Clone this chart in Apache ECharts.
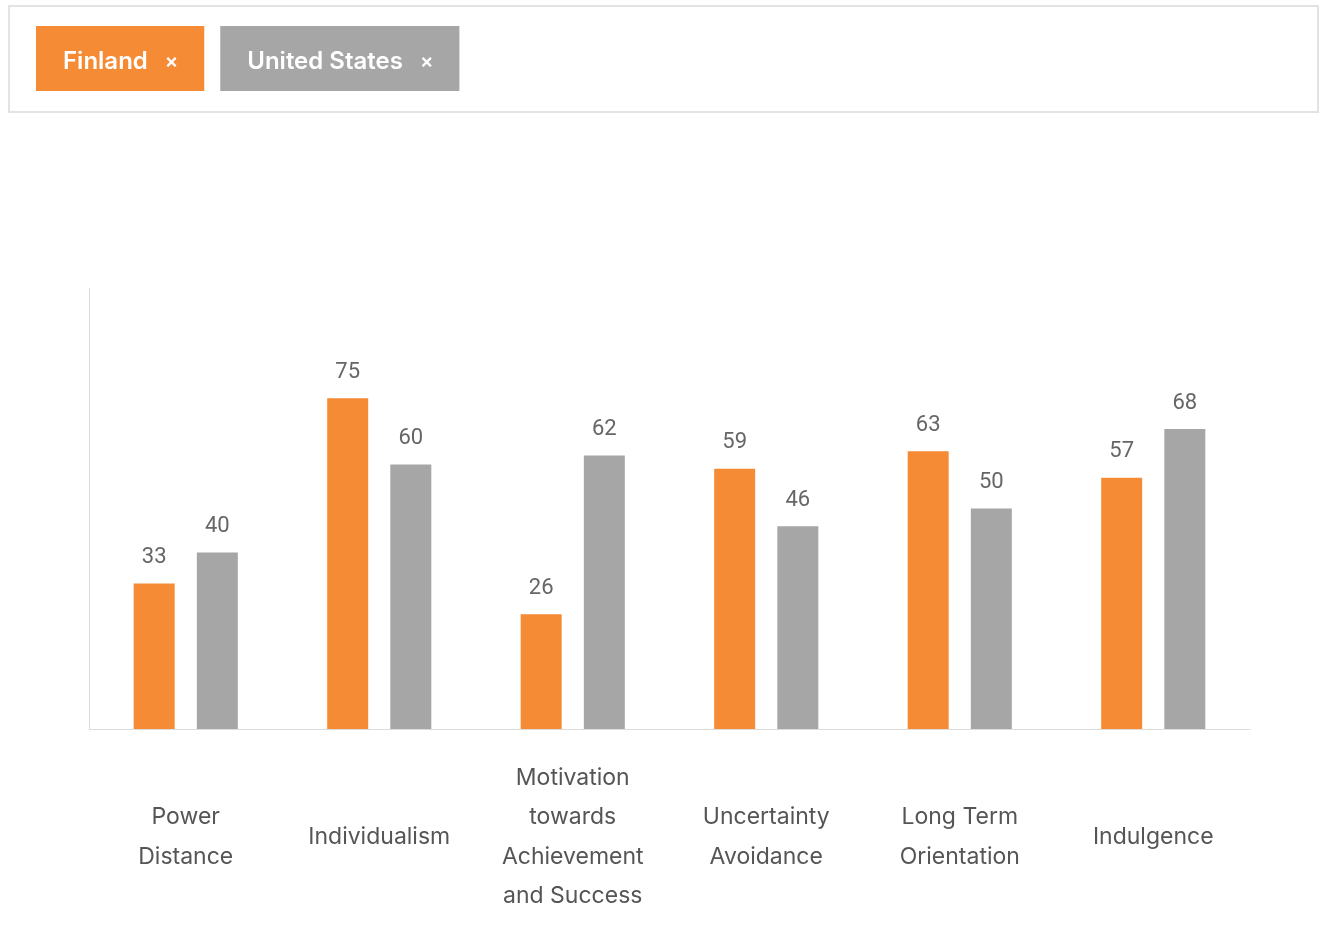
<!DOCTYPE html>
<html>
<head>
<meta charset="utf-8">
<script src="https://cdn.jsdelivr.net/npm/echarts@6/dist/echarts.min.js"></script>
<style>
  html, body { margin: 0; padding: 0; background: #fff; }
  #chart { width: 1324px; height: 947px; }
</style>
</head>
<body>
<div id="chart"></div>
<script>
var categories = [
  "Power\nDistance",
  "Individualism",
  "Motivation\ntowards\nAchievement\nand Success",
  "Uncertainty\nAvoidance",
  "Long Term\nOrientation",
  "Indulgence"
];
var finland = [33, 75, 26, 59, 63, 57];
var unitedStates = [40, 60, 62, 46, 50, 68];

var orange = "#f58b35";
var grey = "#a6a6a6";

var myChart = echarts.init(document.getElementById("chart"));

// tag style shared by both legend items
function tagStyle(bg) {
  return {
    backgroundColor: bg,
    color: "#fff",
    fontFamily: "Inter",
    fontWeight: 600,
    fontSize: 24,
    lineHeight: 24,
    padding: [24, 26, 17, 27],
    rich: {
      n: { color: "#fff", fontFamily: "Inter", fontWeight: 600, fontSize: 24, lineHeight: 24 },
      x: { color: "#fff", fontFamily: "Inter", fontWeight: 600, fontSize: 20, lineHeight: 24, padding: [0, 0, 0, 17] }
    }
  };
}

var option = {
  animation: false,
  graphic: [
    {
      type: "rect",
      shape: { x: 9, y: 6, width: 1309, height: 106 },
      style: { fill: "none", stroke: "#e3e3e3", lineWidth: 2 }
    }
  ],
  legend: {
    left: 31,
    top: 26,
    padding: 0,
    itemGap: 11,
    itemWidth: 0,
    itemHeight: 0,
    icon: "none",
    selectedMode: false,
    formatter: function (name) {
      return "{n|" + name + "}{x|×}";
    },
    data: [
      { name: "Finland", textStyle: tagStyle(orange) },
      { name: "United States", textStyle: tagStyle(grey) }
    ]
  },
  grid: {
    left: 89,
    right: 74,
    top: 288,
    bottom: 218,
    containLabel: false
  },
  xAxis: {
    type: "category",
    data: categories,
    axisLine: { lineStyle: { color: "#dcdcdc", width: 1 } },
    axisTick: { show: false },
    axisLabel: {
      interval: 0,
      margin: 108,
      verticalAlign: "middle",
      color: "#555",
      fontFamily: "Inter",
      fontSize: 23,
      lineHeight: 39.5
    }
  },
  yAxis: {
    type: "value",
    min: 0,
    max: 100,
    splitLine: { show: false },
    axisLine: { show: true, lineStyle: { color: "#dcdcdc", width: 1 } },
    axisTick: { show: false },
    axisLabel: { show: false }
  },
  series: [
    {
      name: "Finland",
      type: "bar",
      data: finland,
      barWidth: 41,
      barGap: "54%",
      itemStyle: { color: orange },
      label: {
        show: true,
        position: "top",
        distance: 15,
        color: "#666",
        fontFamily: "Roboto",
        fontSize: 22
      }
    },
    {
      name: "United States",
      type: "bar",
      data: unitedStates,
      barWidth: 41,
      itemStyle: { color: grey },
      label: {
        show: true,
        position: "top",
        distance: 15,
        color: "#666",
        fontFamily: "Roboto",
        fontSize: 22
      }
    }
  ]
};

myChart.setOption(option);
</script>
</body>
</html>
